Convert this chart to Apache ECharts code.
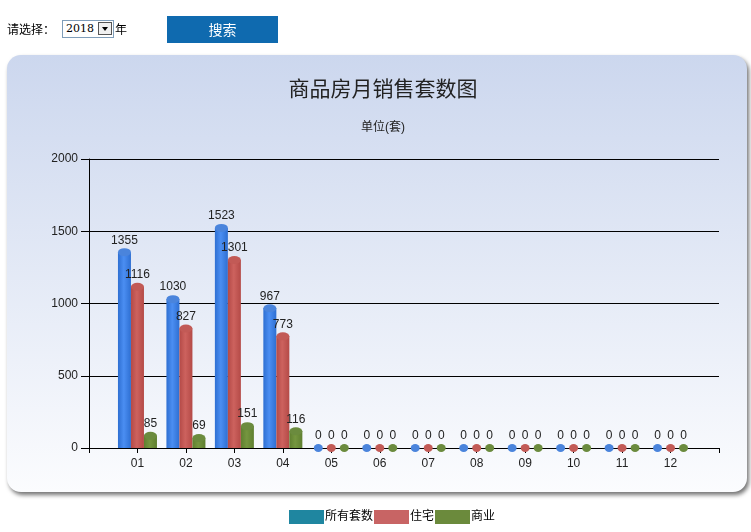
<!DOCTYPE html>
<html>
<head>
<meta charset="utf-8">
<script src="https://cdn.jsdelivr.net/npm/echarts@6/dist/echarts.min.js"></script>
<style>
  html, body { margin: 0; padding: 0; background: #fff; }
  #chart { position: absolute; left: 0; top: 0; width: 751px; height: 532px; }
  .ctl { position: absolute; font-family: "Noto Sans CJK SC", sans-serif; font-size: 12px; color: #000; z-index: 5; }
  #lbl { left: 7px; top: 20px; line-height: 18px; }
  #sel { left: 62px; top: 20px; width: 50px; height: 16px; border: 1px solid #7f9db9; background: #fff; }
  #sel span { position: absolute; left: 3px; top: 0; line-height: 16px; font-family: "DejaVu Serif", serif; font-size: 11px; }
  #arrow { position: absolute; right: 1px; top: 1px; width: 14px; height: 13px; border: 1px solid #555; background: #f0f0f0; box-sizing: border-box; }
  #arrow:after { content: ""; position: absolute; left: 3px; top: 4px; border-left: 3.5px solid transparent; border-right: 3.5px solid transparent; border-top: 4px solid #000; }
  #nian { left: 115px; top: 20px; line-height: 18px; }
  #btn { left: 167px; top: 16px; width: 111px; height: 27px; background: #0f6aaf; color: #fff; font-size: 14px; line-height: 27px; text-align: center; }
</style>
</head>
<body>
<div id="chart"></div>
<div class="ctl" id="lbl">请选择：</div>
<div class="ctl" id="sel"><span>2018</span><div id="arrow"></div></div>
<div class="ctl" id="nian">年</div>
<div class="ctl" id="btn">搜索</div>
<script>
const months = ['01','02','03','04','05','06','07','08','09','10','11','12'];
const allUnits = [1355, 1030, 1523, 967, 0, 0, 0, 0, 0, 0, 0, 0];
const residential = [1116, 827, 1301, 773, 0, 0, 0, 0, 0, 0, 0, 0];
const commercial = [85, 69, 151, 116, 0, 0, 0, 0, 0, 0, 0, 0];
const yTicks = { min: 0, max: 2000, interval: 500 };
const seriesNames = ['所有套数', '住宅', '商业'];

const FONT = '"Liberation Sans", "Noto Sans CJK SC", sans-serif';
const cats = [''].concat(months, ['']);
const pad = arr => ['-'].concat(arr, ['-']);

const barColors = [
  ['#2e6fd2', '#4b8ef2', '#2e6fd2'],
  ['#b44a47', '#cd625e', '#b44a47'],
  ['#5f7f30', '#75963f', '#5f7f30']
];
const capColors = ['#4a84dc', '#c25a56', '#6b8b3e'];
const legendColors = ['#1f86a0', '#c86464', '#6b8a3c'];
const dataSets = [allUnits, residential, commercial];

function grad(c) {
  return new echarts.graphic.LinearGradient(0, 0, 1, 0, [
    { offset: 0, color: c[0] }, { offset: 0.45, color: c[1] }, { offset: 1, color: c[2] }
  ]);
}

const series = [];
dataSets.forEach((d, i) => {
  series.push({
    name: seriesNames[i],
    type: 'bar',
    barWidth: 13,
    barGap: '0%',
    data: pad(d),
    itemStyle: { color: grad(barColors[i]) },
    label: {
      show: true, position: 'top', distance: 6,
      color: '#222', fontSize: 12, fontFamily: FONT
    },
    z: 2
  });
});
dataSets.forEach((d, i) => {
  series.push({
    name: seriesNames[i] + '_cap',
    type: 'pictorialBar',
    barWidth: 13,
    barGap: '0%',
    symbol: 'circle',
    symbolPosition: 'end',
    symbolOffset: [0, '-50%'],
    data: pad(d).map(v => v === '-' ? '-' : { value: v, symbolSize: v === 0 ? [9, 8] : [13, 8] }),
    itemStyle: { color: capColors[i] },
    silent: true,
    z: 3
  });
});

const chart = echarts.init(document.getElementById('chart'));
chart.setOption({
  animation: false,
  textStyle: { fontFamily: FONT },
  graphic: [{
    type: 'rect',
    z: -100,
    silent: true,
    shape: { x: 7, y: 55, width: 740, height: 437, r: 14 },
    style: {
      fill: new echarts.graphic.LinearGradient(0, 0, 0, 1, [
        { offset: 0, color: '#ccd7ee' }, { offset: 1, color: '#fbfcfe' }
      ]),
      shadowBlur: 4, shadowOffsetX: 2, shadowOffsetY: 3, shadowColor: 'rgba(0,0,0,0.55)'
    }
  }],
  title: {
    text: '商品房月销售套数图',
    subtext: '单位(套)',
    left: 378, textAlign: 'center', top: 75, itemGap: 21,
    textStyle: { fontSize: 21, fontWeight: 'normal', color: '#222', fontFamily: FONT },
    subtextStyle: { fontSize: 12, color: '#222', fontFamily: FONT }
  },
  legend: {
    data: seriesNames.map((n, i) => ({ name: n, itemStyle: { color: legendColors[i] } })),
    left: 284, top: 505,
    icon: 'rect', itemWidth: 35, itemHeight: 14, itemGap: 1,
    textStyle: { fontSize: 12, color: '#000', fontFamily: FONT, padding: [0, 0, 0, -4] },
    selectedMode: false
  },
  grid: { left: 89, right: 32, top: 159, bottom: 84, containLabel: false },
  xAxis: {
    type: 'category',
    data: cats,
    boundaryGap: false,
    axisLine: { lineStyle: { color: '#000', width: 1 } },
    axisTick: { show: true, inside: false, length: 5, lineStyle: { color: '#000' }, interval: 0 },
    axisLabel: { color: '#222', fontSize: 12, margin: 10, interval: 0, fontFamily: FONT },
    splitLine: { show: false }
  },
  yAxis: {
    type: 'value',
    min: yTicks.min, max: yTicks.max, interval: yTicks.interval,
    axisLine: { show: true, lineStyle: { color: '#000', width: 1 } },
    axisTick: { show: true, length: 8, lineStyle: { color: '#000' } },
    axisLabel: { color: '#222', fontSize: 12, margin: 11, fontFamily: FONT, formatter: v => String(v) },
    splitLine: { show: true, lineStyle: { color: '#000', width: 1 } }
  },
  series: series
});
</script>
</body>
</html>
